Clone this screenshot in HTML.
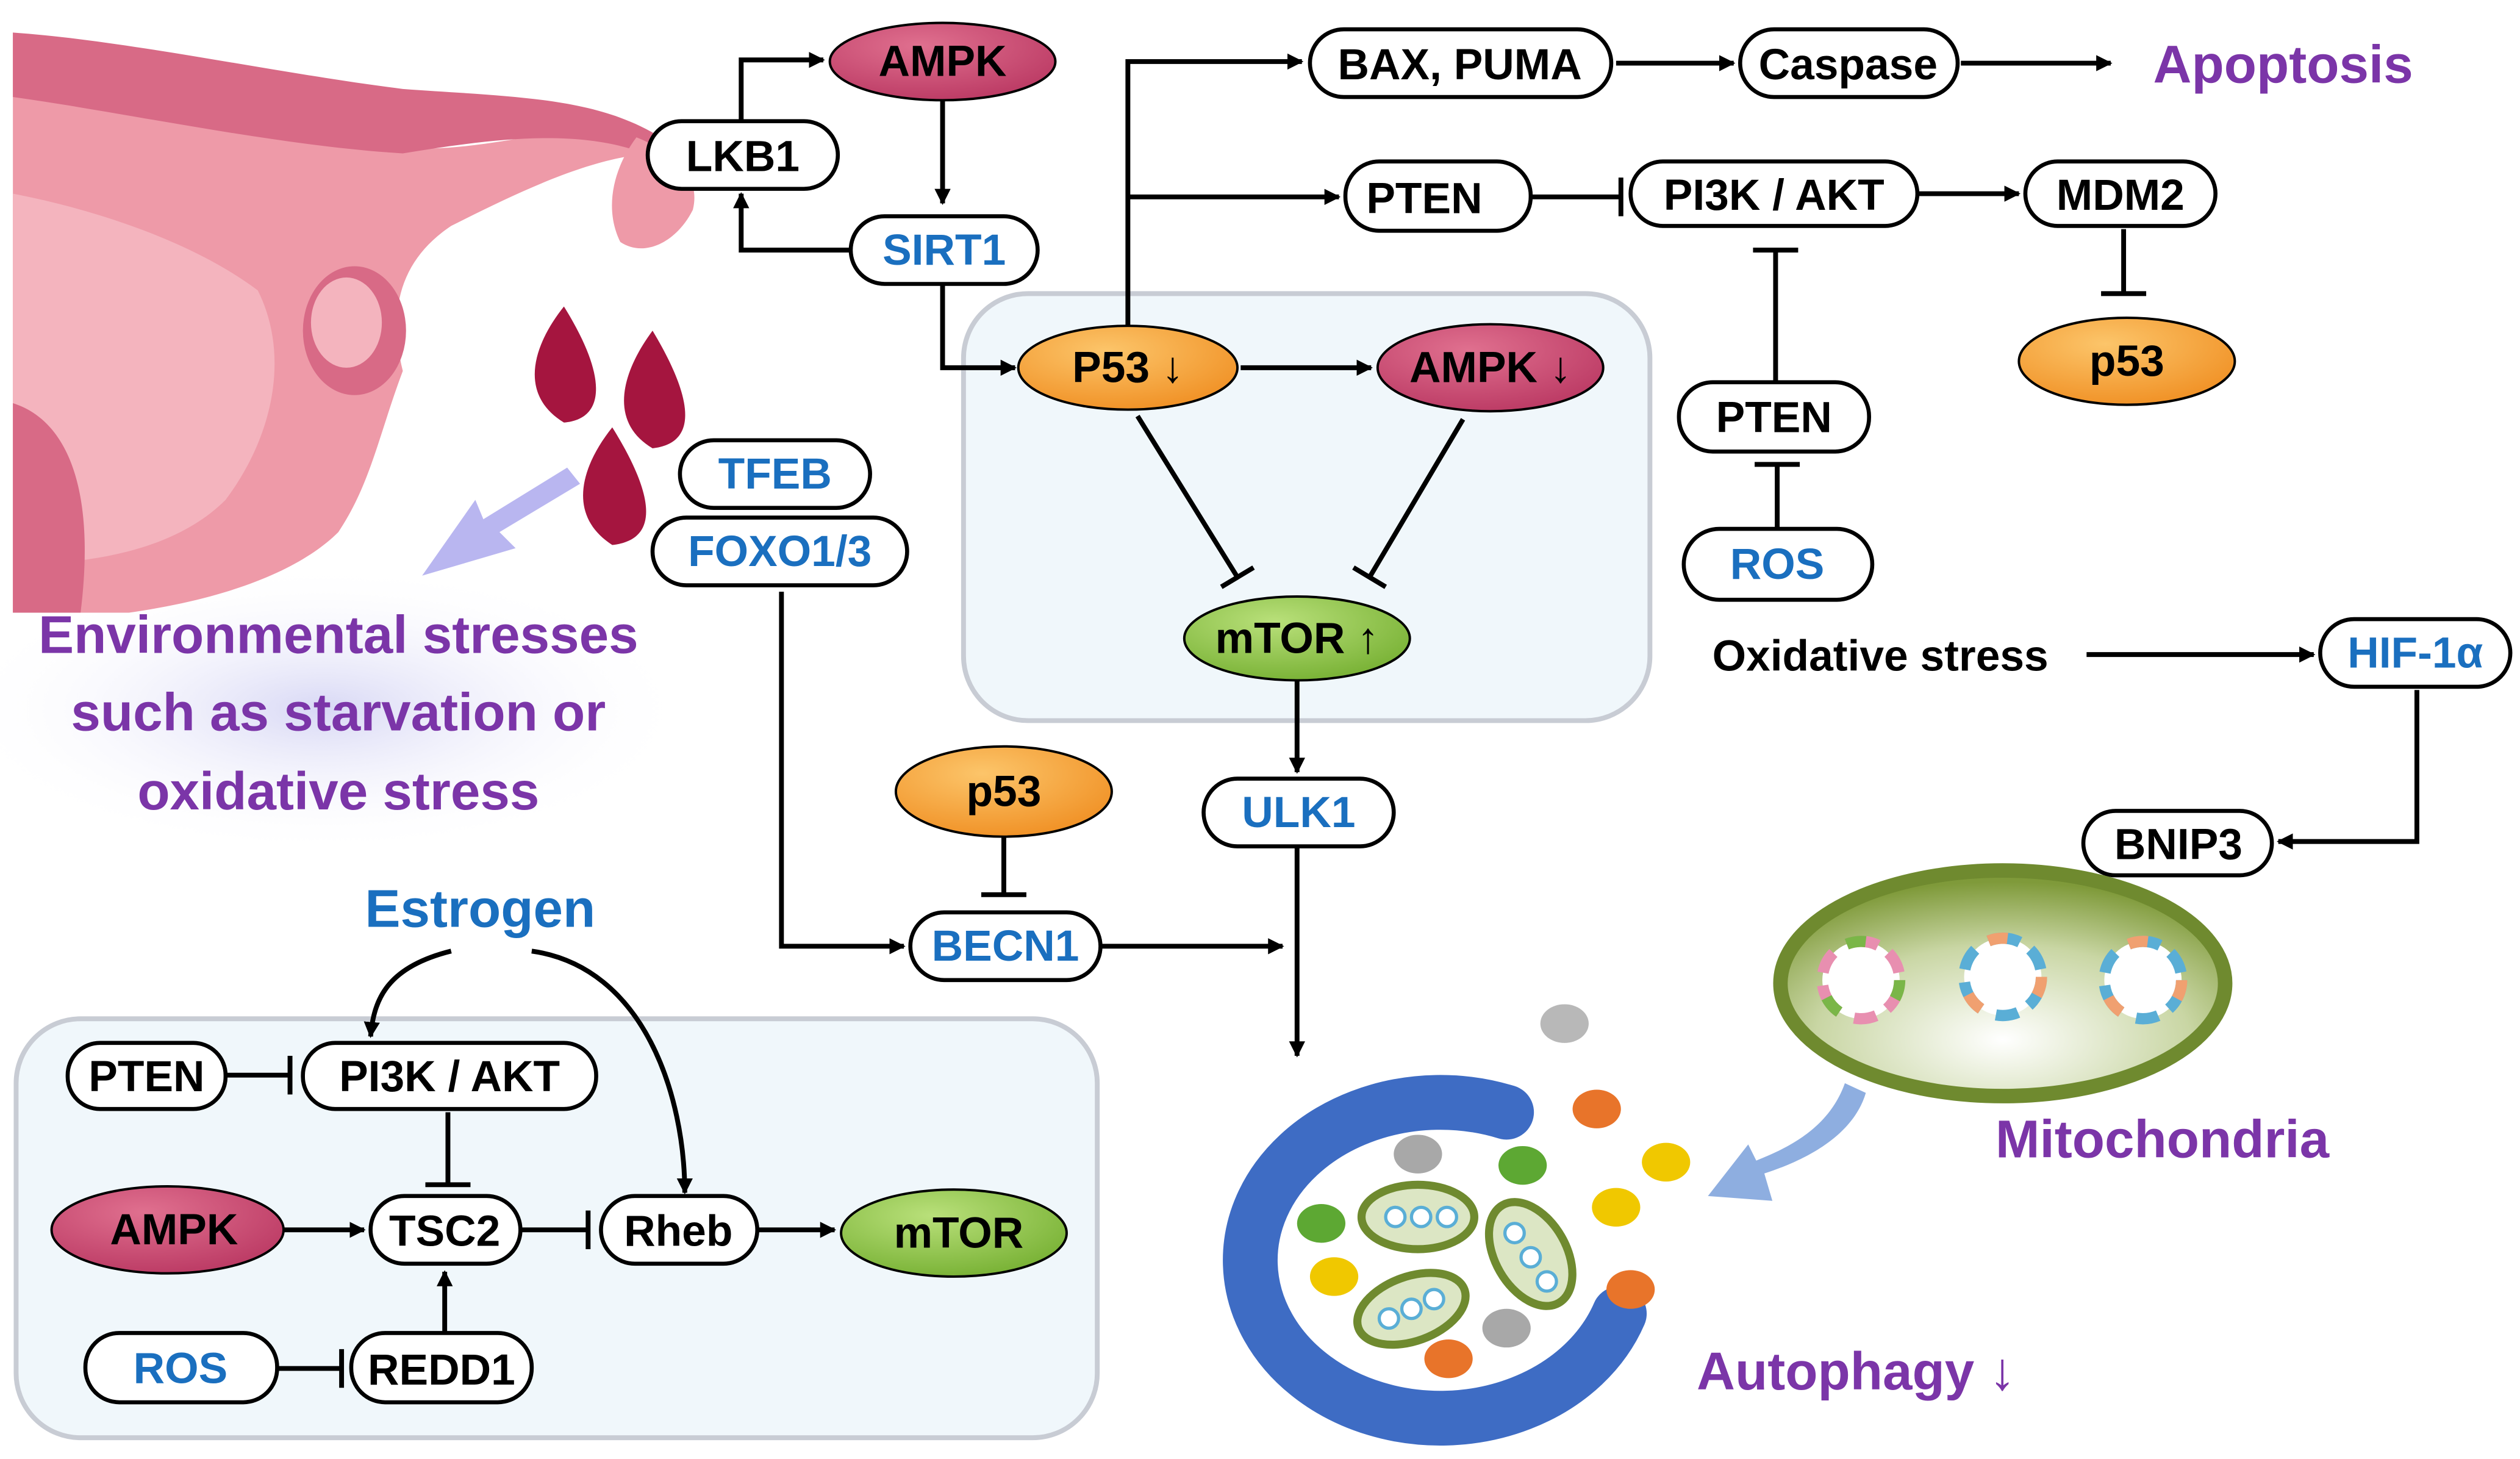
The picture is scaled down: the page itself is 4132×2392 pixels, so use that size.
<!DOCTYPE html>
<html><head><meta charset="utf-8"><style>
html,body{margin:0;padding:0;background:#fff}
svg{display:block}
text{font-family:"Liberation Sans","DejaVu Sans",sans-serif;font-weight:bold}
</style></head><body>
<svg width="4132" height="2392" viewBox="0 0 1564 905" xmlns="http://www.w3.org/2000/svg">
<defs>
<marker id="ar" markerWidth="10" markerHeight="10" refX="9" refY="5" orient="auto" markerUnits="userSpaceOnUse"><path d="M0,0 L10,5 L0,10 z" fill="#000"/></marker>
<radialGradient id="og" cx="0.4" cy="0.3" r="0.8"><stop offset="0" stop-color="#fcc56a"/><stop offset="1" stop-color="#ef8c1f"/></radialGradient>
<radialGradient id="mg" cx="0.4" cy="0.3" r="0.8"><stop offset="0" stop-color="#e0708f"/><stop offset="1" stop-color="#b83560"/></radialGradient>
<radialGradient id="gg" cx="0.4" cy="0.3" r="0.8"><stop offset="0" stop-color="#b9e07a"/><stop offset="1" stop-color="#72ad2e"/></radialGradient>
<radialGradient id="mito" cx="0.5" cy="0.75" r="0.7"><stop offset="0" stop-color="#ffffff"/><stop offset="0.6" stop-color="#c9d6a4"/><stop offset="1" stop-color="#7f9a3a"/></radialGradient>
<radialGradient id="glow" cx="0.5" cy="0.5" r="0.5"><stop offset="0" stop-color="#d8d8f5"/><stop offset="1" stop-color="#fff" stop-opacity="0"/></radialGradient>
</defs>

<ellipse cx="200" cy="440" rx="230" ry="90" fill="url(#glow)"/>
<path d="M8,20 C60,40 150,70 230,90 C300,100 360,70 400,80 L410,95 C370,95 320,120 280,140 C250,160 240,190 250,230 C235,270 230,300 210,330 C190,350 150,370 80,380 L8,380 Z" fill="#ee9aa8"/>
<path d="M8,20 C80,25 170,45 250,55 C320,60 370,60 410,85 L400,95 C360,80 310,85 250,95 C170,90 80,70 8,60 Z" fill="#d86a86"/>
<path d="M395,85 C420,95 435,110 430,130 C420,150 400,160 385,150 C375,130 380,105 395,85 Z" fill="#ee9aa8"/>
<path d="M8,120 C60,130 120,150 160,180 C180,220 170,270 140,310 C110,340 60,350 8,350 Z" fill="#f4b4be"/>
<ellipse cx="220" cy="205" rx="32" ry="40" fill="#d86a86"/>
<ellipse cx="215" cy="200" rx="22" ry="28" fill="#f4b4be"/>
<path d="M8,250 C40,260 60,300 50,380 L8,380 Z" fill="#d86a86"/>
<path d="M350,190 C330,215 322,245 350,262 C375,260 378,235 350,190 Z" fill="#a5153f"/>
<path d="M405,205 C385,232 378,262 405,278 C432,275 432,250 405,205 Z" fill="#a5153f"/>
<path d="M380,265 C360,290 352,320 380,338 C408,335 408,310 380,265 Z" fill="#a5153f"/>
<path d="M360,300 L310,330 L320,340 L262,357 L295,310 L300,322 L352,290 Z" fill="#b9b6f0"/>

<text x="210" y="405" font-size="33" fill="#7b35a8" text-anchor="middle">Environmental stresses</text>
<text x="210" y="453" font-size="33" fill="#7b35a8" text-anchor="middle">such as starvation or</text>
<text x="210" y="502" font-size="33" fill="#7b35a8" text-anchor="middle">oxidative stress</text>

<rect x="598" y="182" width="426" height="265" rx="40" fill="#f0f7fb" stroke="#c8ccd4" stroke-width="3"/>
<rect x="10" y="632" width="671" height="260" rx="40" fill="#f0f7fb" stroke="#c8ccd4" stroke-width="3"/>

<g fill="none" stroke="#000" stroke-width="3">
<path d="M460,75 V37 H511" marker-end="url(#ar)"/>
<path d="M585,62 V126" marker-end="url(#ar)"/>
<path d="M528,155 H460 V120" marker-end="url(#ar)"/>
<path d="M585,176 V228 H630" marker-end="url(#ar)"/>
<path d="M700,202 V38 H808" marker-end="url(#ar)"/>
<path d="M700,122 H831" marker-end="url(#ar)"/>
<path d="M1003,39 H1076" marker-end="url(#ar)"/>
<path d="M1217,39 H1310" marker-end="url(#ar)"/>
<path d="M950,122 H1006 M1006,110 V134"/>
<path d="M1190,120 H1253" marker-end="url(#ar)"/>
<path d="M1318,142 V182 M1304,182 H1332"/>
<path d="M1102,237 V155 M1088,155 H1116"/>
<path d="M1103,328 V288 M1089,288 H1117"/>
<path d="M770,228 H851" marker-end="url(#ar)"/>
<path d="M706,258 L768,358 M758,364 L778,352"/>
<path d="M908,260 L850,358 M840,352 L860,364"/>
<path d="M805,422 V479" marker-end="url(#ar)"/>
<path d="M805,525 V655" marker-end="url(#ar)"/>
<path d="M683,587 H796" marker-end="url(#ar)"/>
<path d="M623,519 V555 M609,555 H637"/>
<path d="M485,367 V587 H561" marker-end="url(#ar)"/>
<path d="M1295,406 H1436" marker-end="url(#ar)"/>
<path d="M1500,428 V522 H1414" marker-end="url(#ar)"/>
<path d="M140,667 H180 M180,655 V679"/>
<path d="M278,690 V735 M264,735 H292"/>
<path d="M176,763 H226" marker-end="url(#ar)"/>
<path d="M323,763 H365 M365,751 V775"/>
<path d="M470,763 H518" marker-end="url(#ar)"/>
<path d="M172,849 H212 M212,837 V861"/>
<path d="M276,827 V789" marker-end="url(#ar)"/>
<path d="M280,590 C240,600 232,620 230,643" marker-end="url(#ar)"/>
<path d="M330,590 C400,600 425,680 425,740" marker-end="url(#ar)"/>
</g>

<g fill="#fff" stroke="#000" stroke-width="2.5">
<rect x="402" y="75" width="118" height="42" rx="21"/>
<rect x="528" y="134" width="116" height="42" rx="21"/>
<rect x="813" y="18" width="187" height="42" rx="21"/>
<rect x="1080" y="18" width="135" height="42" rx="21"/>
<rect x="835" y="100" width="115" height="43" rx="21"/>
<rect x="1012" y="100" width="178" height="40" rx="20"/>
<rect x="1257" y="100" width="118" height="40" rx="20"/>
<rect x="1042" y="237" width="118" height="43" rx="21"/>
<rect x="1045" y="328" width="117" height="44" rx="22"/>
<rect x="1440" y="384" width="118" height="42" rx="21"/>
<rect x="1293" y="503" width="117" height="40" rx="20"/>
<rect x="747" y="483" width="118" height="42" rx="21"/>
<rect x="565" y="566" width="118" height="42" rx="21"/>
<rect x="422" y="273" width="118" height="42" rx="21"/>
<rect x="405" y="321" width="158" height="42" rx="21"/>
<rect x="42" y="647" width="98" height="41" rx="20"/>
<rect x="188" y="647" width="182" height="41" rx="20"/>
<rect x="230" y="742" width="93" height="42" rx="21"/>
<rect x="373" y="742" width="97" height="42" rx="21"/>
<rect x="53" y="827" width="119" height="43" rx="21"/>
<rect x="218" y="827" width="112" height="43" rx="21"/>
</g>
<g stroke="#000" stroke-width="1.5">
<ellipse cx="585" cy="38" rx="70" ry="24" fill="url(#mg)"/>
<ellipse cx="1320" cy="224" rx="67" ry="27" fill="url(#og)"/>
<ellipse cx="700" cy="228" rx="68" ry="26" fill="url(#og)"/>
<ellipse cx="925" cy="228" rx="70" ry="27" fill="url(#mg)"/>
<ellipse cx="805" cy="396" rx="70" ry="26" fill="url(#gg)"/>
<ellipse cx="623" cy="491" rx="67" ry="28" fill="url(#og)"/>
<ellipse cx="104" cy="763" rx="72" ry="27" fill="url(#mg)"/>
<ellipse cx="592" cy="765" rx="70" ry="27" fill="url(#gg)"/>
</g>

<g font-size="27" text-anchor="middle" fill="#000">
<text x="461" y="106">LKB1</text>
<text x="585" y="47">AMPK</text>
<text x="906" y="49">BAX, PUMA</text>
<text x="1147" y="49">Caspase</text>
<text x="884" y="132">PTEN</text>
<text x="1101" y="130">PI3K / AKT</text>
<text x="1316" y="130">MDM2</text>
<text x="1320" y="233">p53</text>
<text x="1101" y="268">PTEN</text>
<text x="1352" y="533">BNIP3</text>
<text x="700" y="237">P53 ↓</text>
<text x="925" y="237">AMPK ↓</text>
<text x="805" y="405">mTOR ↑</text>
<text x="623" y="500">p53</text>
<text x="91" y="677">PTEN</text>
<text x="279" y="677">PI3K / AKT</text>
<text x="108" y="772">AMPK</text>
<text x="276" y="773">TSC2</text>
<text x="421" y="773">Rheb</text>
<text x="595" y="774">mTOR</text>
<text x="274" y="859">REDD1</text>
<text x="1167" y="416">Oxidative stress</text>
</g>
<g font-size="27" text-anchor="middle" fill="#1a6fbf">
<text x="586" y="164">SIRT1</text>
<text x="1103" y="359">ROS</text>
<text x="1499" y="414">HIF-1α</text>
<text x="806" y="513">ULK1</text>
<text x="624" y="596">BECN1</text>
<text x="481" y="303">TFEB</text>
<text x="484" y="351">FOXO1/3</text>
<text x="112" y="858">ROS</text>
<text x="298" y="575" font-size="33">Estrogen</text>
</g>
<text x="1417" y="51" font-size="33" fill="#7b35a8" text-anchor="middle">Apoptosis</text>
<text x="1342" y="718" font-size="33" fill="#7b35a8" text-anchor="middle">Mitochondria</text>
<text x="1152" y="862" font-size="33" fill="#7b35a8" text-anchor="middle">Autophagy ↓</text>

<ellipse cx="1243" cy="610" rx="138" ry="70" fill="url(#mito)" stroke="#6f8a2f" stroke-width="9"/>
<g fill="#fff" stroke-width="7" stroke-dasharray="20 8 14 10">
<circle cx="1155" cy="608" r="24" stroke="#e88fb0"/>
<circle cx="1243" cy="606" r="24" stroke="#5aaed6"/>
<circle cx="1330" cy="608" r="24" stroke="#5aaed6"/>
</g>
<g fill="none" stroke-width="7" stroke-dasharray="12 40">
<circle cx="1155" cy="608" r="24" stroke="#7ab648"/>
<circle cx="1243" cy="606" r="24" stroke="#f0a070"/>
<circle cx="1330" cy="608" r="24" stroke="#f0a070"/>
</g>
<path d="M1158,678 C1150,705 1120,720 1095,728 L1100,745 L1060,742 L1085,710 L1090,720 C1110,712 1135,700 1145,672 Z" fill="#8eaee0"/>

<path d="M935,690 A118,98 0 1,0 1005,815" fill="none" stroke="#3e6cc4" stroke-width="34" stroke-linecap="round"/>
<g>
<ellipse cx="971" cy="635" rx="15" ry="12" fill="#b8b8b8"/>
<ellipse cx="991" cy="688" rx="15" ry="12" fill="#e8742a"/>
<ellipse cx="1034" cy="721" rx="15" ry="12" fill="#f0c800"/>
<ellipse cx="880" cy="716" rx="15" ry="12" fill="#a8a8a8"/>
<ellipse cx="945" cy="723" rx="15" ry="12" fill="#5da833"/>
<ellipse cx="1003" cy="749" rx="15" ry="12" fill="#f0c800"/>
<ellipse cx="820" cy="759" rx="15" ry="12" fill="#5da833"/>
<ellipse cx="828" cy="792" rx="15" ry="12" fill="#f0c800"/>
<ellipse cx="1012" cy="800" rx="15" ry="12" fill="#e8742a"/>
<ellipse cx="935" cy="824" rx="15" ry="12" fill="#a8a8a8"/>
<ellipse cx="899" cy="843" rx="15" ry="12" fill="#e8742a"/>
<ellipse cx="880" cy="755" rx="35" ry="20" fill="#dce6c4" stroke="#6f8a2f" stroke-width="5"/>
<ellipse cx="950" cy="778" rx="22" ry="35" transform="rotate(-30 950 778)" fill="#dce6c4" stroke="#6f8a2f" stroke-width="5"/>
<ellipse cx="876" cy="812" rx="35" ry="20" transform="rotate(-20 876 812)" fill="#dce6c4" stroke="#6f8a2f" stroke-width="5"/>
<g fill="#fff" stroke="#5aaed6" stroke-width="2"><circle cx="866" cy="755" r="6"/><circle cx="882" cy="755" r="6"/><circle cx="898" cy="755" r="6"/><circle cx="940" cy="765" r="6"/><circle cx="950" cy="780" r="6"/><circle cx="960" cy="795" r="6"/><circle cx="862" cy="818" r="6"/><circle cx="876" cy="812" r="6"/><circle cx="890" cy="806" r="6"/></g>
</g>
</svg>
</body></html>
